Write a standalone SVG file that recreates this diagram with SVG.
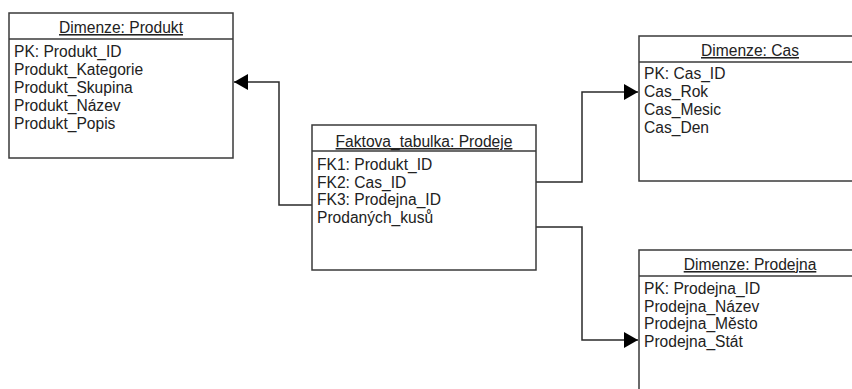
<svg xmlns="http://www.w3.org/2000/svg" width="852" height="389" viewBox="0 0 852 389">
<style>
.box{fill:#fff;stroke:#3a3a3a;stroke-width:1.5}
.sep{stroke:#3a3a3a;stroke-width:1.5}
text{font-family:"Liberation Sans",Arial,sans-serif;font-size:15.6px;fill:#222}
.title{text-anchor:middle;text-decoration:underline}
.conn{fill:none;stroke:#2a2a2a;stroke-width:1.5}
</style>
<defs>
<marker id="arr" markerWidth="14" markerHeight="16" refX="14" refY="8" orient="auto" markerUnits="userSpaceOnUse">
<path d="M0,0 L14,8 L0,16 Z" fill="#000"/>
</marker>
</defs>
<rect width="852" height="389" fill="#fff"/>
<g id="connectors">
<path class="conn" d="M312,205 H279 V82 H234" marker-end="url(#arr)"/>
<path class="conn" d="M536,182 H582 V92 H638" marker-end="url(#arr)"/>
<path class="conn" d="M536,227 H582 V340 H638" marker-end="url(#arr)"/>
</g>
<g id="produkt">
<rect class="box" x="9" y="13" width="224" height="145"/>
<line class="sep" x1="9" y1="39" x2="233" y2="39"/>
<text class="title" x="121" y="33">Dimenze: Produkt</text>
<text x="14" y="57">PK: Produkt_ID</text>
<text x="14" y="75">Produkt_Kategorie</text>
<text x="14" y="93">Produkt_Skupina</text>
<text x="14" y="111">Produkt_Název</text>
<text x="14" y="129">Produkt_Popis</text>
</g>
<g id="prodeje">
<rect class="box" x="312" y="125" width="224" height="145"/>
<line class="sep" x1="312" y1="151" x2="536" y2="151"/>
<text class="title" x="424" y="147">Faktova_tabulka: Prodeje</text>
<text x="317" y="170">FK1: Produkt_ID</text>
<text x="317" y="187.5">FK2: Cas_ID</text>
<text x="317" y="205">FK3: Prodejna_ID</text>
<text x="317" y="222.5">Prodaných_kusů</text>
</g>
<g id="cas">
<rect class="box" x="639" y="36" width="224" height="145"/>
<line class="sep" x1="639" y1="62" x2="863" y2="62"/>
<text class="title" x="750" y="56">Dimenze: Cas</text>
<text x="644" y="79">PK: Cas_ID</text>
<text x="644" y="97">Cas_Rok</text>
<text x="644" y="115">Cas_Mesic</text>
<text x="644" y="133">Cas_Den</text>
</g>
<g id="prodejna">
<rect class="box" x="639" y="250" width="224" height="145"/>
<line class="sep" x1="639" y1="276" x2="863" y2="276"/>
<text class="title" x="750" y="270">Dimenze: Prodejna</text>
<text x="644" y="294">PK: Prodejna_ID</text>
<text x="644" y="312">Prodejna_Název</text>
<text x="644" y="329">Prodejna_Město</text>
<text x="644" y="347">Prodejna_Stát</text>
</g>
</svg>
